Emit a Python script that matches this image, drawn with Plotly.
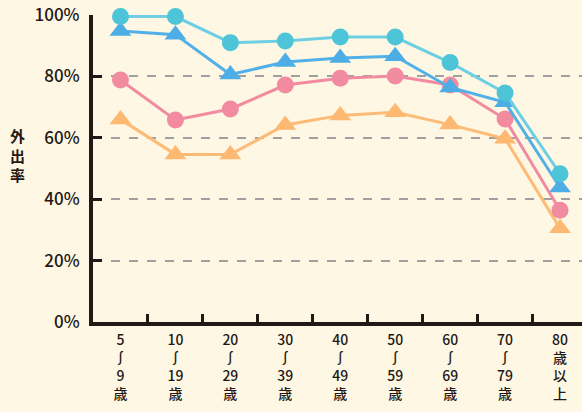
import plotly.graph_objects as go

categories = ["5<br>∫<br>9<br>歳", "10<br>∫<br>19<br>歳", "20<br>∫<br>29<br>歳", "30<br>∫<br>39<br>歳",
              "40<br>∫<br>49<br>歳", "50<br>∫<br>59<br>歳", "60<br>∫<br>69<br>歳", "70<br>∫<br>79<br>歳",
              "80<br>歳<br>以<br>上"]

cyan_circle = [99.5, 99.5, 91.0, 91.5, 92.8, 92.8, 84.5, 74.6, 48.3]
blue_triangle = [94.8, 93.6, 80.6, 84.7, 86.0, 86.6, 76.4, 71.6, 43.8]
pink_circle = [78.8, 65.8, 69.4, 77.2, 79.4, 80.1, 77.2, 66.1, 36.4]
orange_triangle = [66.0, 54.6, 54.6, 64.2, 67.3, 68.3, 64.3, 59.7, 30.5]

yticks = [0, 20, 40, 60, 80, 100]
ytick_text = ["0%", "20%", "40%", "60%", "80%", "100%"]

FONT = "Noto Sans CJK JP"
INK = "#231815"
BG = "#FEF7E4"

fig = go.Figure()

series = [
    (orange_triangle, "#FDB972", "triangle-up", 19),
    (pink_circle, "#F28AA0", "circle", 17),
    (blue_triangle, "#4DAEE6", "triangle-up", 19),
    (cyan_circle, "#4EC4D9", "circle", 17),
]
line_colors = ["#FDBB78", "#F28AA0", "#52B0E8", "#6ECFE4"]
for (vals, col, sym, sz), lc in zip(series, line_colors):
    fig.add_trace(go.Scatter(
        x=categories, y=vals, mode="lines+markers",
        line=dict(color=lc, width=3),
        marker=dict(symbol=sym, size=sz, color=col, line=dict(width=0)),
        cliponaxis=False, showlegend=False, hoverinfo="skip",
    ))

fig.update_layout(
    width=582, height=412,
    margin=dict(l=93, r=0, t=15, b=90),
    paper_bgcolor=BG, plot_bgcolor=BG,
    font=dict(family=FONT, color=INK, size=15),
    showlegend=False,
)

fig.update_xaxes(
    type="category", range=[-0.5, 8.4],
    showline=True, linecolor=INK, linewidth=4,
    ticks="inside", tickson="boundaries", ticklen=8, tickwidth=3, tickcolor=INK,
    showgrid=False, zeroline=False,
    tickfont=dict(family=FONT, size=14, color=INK, weight=500),
    ticklabelstandoff=2,
)

fig.update_yaxes(
    range=[0, 100], tickvals=yticks, ticktext=ytick_text,
    showline=True, linecolor=INK, linewidth=4,
    ticks="inside", ticklen=9, tickwidth=3, tickcolor=INK,
    showgrid=True, gridcolor="#A0A0A0", griddash="dash", gridwidth=1.5,
    zeroline=False,
    tickfont=dict(family=FONT, size=17, color=INK, weight=500),
    ticklabelstandoff=6,
)

fig.add_annotation(
    text="<b>外<br>出<br>率</b>", xref="paper", yref="paper",
    x=-0.155, y=0.545, showarrow=False, xanchor="center", yanchor="middle",
    font=dict(family=FONT, size=15, color=INK),
)

fig.write_html(
    "out.html",
    config={"displayModeBar": False},
    post_script=f"document.body.style.margin='0';document.body.style.background='{BG}';",
)
